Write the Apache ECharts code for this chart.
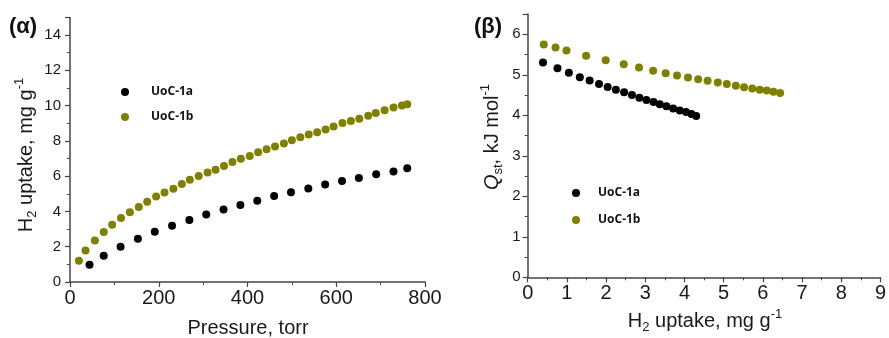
<!DOCTYPE html>
<html><head><meta charset="utf-8">
<script src="https://cdn.jsdelivr.net/npm/echarts@6/dist/echarts.min.js"></script>
<style>html,body{margin:0;padding:0;background:#fff}#c{width:889px;height:338px}</style>
</head><body><div id="c"></div>
<script>
// Panel (α): H2 uptake vs pressure
const seriesNames = ['UoC-1a', 'UoC-1b'];
const pressureA = [44, 76, 114, 153, 191, 230, 269, 307, 346, 384, 422, 460, 498, 537, 575, 613, 651, 690, 729, 760];
const uptakeA = [0.98, 1.49, 2.0, 2.45, 2.85, 3.19, 3.51, 3.83, 4.11, 4.36, 4.6, 4.87, 5.09, 5.3, 5.53, 5.72, 5.9, 6.11, 6.26, 6.45];
const pressureB = [20, 35, 56, 76, 95, 115, 135, 155, 174, 194, 213, 233, 252, 270, 290, 310, 328, 347, 366, 385, 405, 424, 443, 462, 482, 500, 519, 538, 557, 576, 594, 614, 633, 652, 672, 689, 709, 729, 748, 760];
const uptakeB = [1.21, 1.78, 2.35, 2.83, 3.24, 3.63, 3.95, 4.25, 4.55, 4.84, 5.07, 5.29, 5.56, 5.80, 6.01, 6.21, 6.37, 6.58, 6.80, 6.98, 7.14, 7.35, 7.53, 7.68, 7.85, 8.04, 8.21, 8.36, 8.49, 8.64, 8.81, 9.02, 9.13, 9.26, 9.42, 9.58, 9.74, 9.89, 10.0, 10.08];
// Panel (β): Qst vs H2 uptake
const qUptakeA = [0.39, 0.76, 1.05, 1.33, 1.58, 1.82, 2.04, 2.25, 2.46, 2.66, 2.85, 3.03, 3.21, 3.37, 3.54, 3.71, 3.88, 4.04, 4.18, 4.30];
const qstA = [5.30, 5.16, 5.05, 4.94, 4.86, 4.77, 4.70, 4.63, 4.57, 4.50, 4.43, 4.38, 4.33, 4.27, 4.22, 4.17, 4.12, 4.08, 4.03, 3.98];
const qUptakeB = [0.41, 0.71, 0.99, 1.49, 1.99, 2.45, 2.84, 3.2, 3.52, 3.81, 4.09, 4.35, 4.59, 4.85, 5.08, 5.31, 5.52, 5.73, 5.92, 6.1, 6.27, 6.44];
const qstB = [5.75, 5.67, 5.60, 5.47, 5.36, 5.26, 5.18, 5.10, 5.04, 4.98, 4.93, 4.89, 4.85, 4.81, 4.77, 4.73, 4.69, 4.66, 4.63, 4.61, 4.58, 4.55];

const zip = (xs, ys) => xs.map((x, i) => [x, ys[i]]);
const FONT = 'Liberation Sans, Arial, sans-serif';
const AX = '#444';
const TXT = '#1a1a1a';
const colors = ['#000000', '#808000'];

function axisCommon(extra) {
  return Object.assign({
    type: 'value',
    axisLine: { show: true, onZero: false, lineStyle: { color: AX, width: 1.5 } },
    axisTick: { show: true, inside: false, length: 5, lineStyle: { color: AX, width: 1.2 } },
    minorTick: { show: true, splitNumber: 2, length: 3, lineStyle: { color: AX, width: 1 } },
    splitLine: { show: false },
    minorSplitLine: { show: false },
  }, extra);
}

const chart = echarts.init(document.getElementById('c'), null, { renderer: 'canvas' });
const legendText = { fontFamily: 'Open Sans, sans-serif', fontWeight: 'bold', fontSize: 12, color: '#111' };
chart.setOption({
  backgroundColor: '#fff',
  animation: false,
  grid: [
    { left: 70, top: 17.4, width: 355, height: 264.6 },
    { left: 527.7, top: 14, width: 355.3, height: 263.3 }
  ],
  xAxis: [
    axisCommon({ gridIndex: 0, min: 0, max: 800, interval: 200,
      axisLabel: { color: TXT, fontFamily: FONT, fontSize: 20, margin: 6 } }),
    axisCommon({ gridIndex: 1, min: 0, max: 9, interval: 1,
      axisLabel: { color: TXT, fontFamily: FONT, fontSize: 20, margin: 6 } })
  ],
  yAxis: [
    axisCommon({ gridIndex: 0, min: 0, max: 15, interval: 2,
      axisLabel: { color: TXT, fontFamily: FONT, fontSize: 15, margin: 9, showMaxLabel: false } }),
    axisCommon({ gridIndex: 1, min: 0, max: 6.5, interval: 1,
      axisLabel: { color: TXT, fontFamily: FONT, fontSize: 15, margin: 7, showMaxLabel: false } })
  ],
  legend: [
    { orient: 'vertical', left: 116, top: 81, itemWidth: 42, itemHeight: 8, itemGap: 13, icon: 'circle',
      data: seriesNames, textStyle: legendText },
    { orient: 'vertical', left: 567, top: 182, itemWidth: 34, itemHeight: 8, itemGap: 15, icon: 'circle',
      data: seriesNames, textStyle: legendText }
  ],
  series: [
    { name: seriesNames[0], type: 'scatter', xAxisIndex: 0, yAxisIndex: 0, symbolSize: 8, itemStyle: { color: colors[0], opacity: 1 }, data: zip(pressureA, uptakeA) },
    { name: seriesNames[1], type: 'scatter', xAxisIndex: 0, yAxisIndex: 0, symbolSize: 8, itemStyle: { color: colors[1], opacity: 1 }, data: zip(pressureB, uptakeB) },
    { name: seriesNames[0], type: 'scatter', xAxisIndex: 1, yAxisIndex: 1, symbolSize: 8, itemStyle: { color: colors[0], opacity: 1 }, data: zip(qUptakeA, qstA) },
    { name: seriesNames[1], type: 'scatter', xAxisIndex: 1, yAxisIndex: 1, symbolSize: 8, itemStyle: { color: colors[1], opacity: 1 }, data: zip(qUptakeB, qstB) }
  ],
  graphic: [
    { type: 'text', x: 9, y: 27, style: { text: '(α)', font: 'bold 22px ' + FONT, fill: '#111', verticalAlign: 'middle' } },
    { type: 'text', x: 474, y: 27, style: { text: '(β)', font: 'bold 22px ' + FONT, fill: '#111', verticalAlign: 'middle' } },
    { type: 'text', x: 248, y: 328, style: { text: 'Pressure, torr', font: '20px ' + FONT, fill: TXT, align: 'center', verticalAlign: 'middle' } },
    { type: 'text', x: 705, y: 321, style: {
        text: '{a|H}{s|2}{a| uptake, mg g}{p|-1}', align: 'center', verticalAlign: 'middle',
        rich: {
          a: { fontSize: 20, fontFamily: FONT, fill: TXT, lineHeight: 26, verticalAlign: 'middle' },
          s: { fontSize: 13, fontFamily: FONT, fill: TXT, lineHeight: 13, verticalAlign: 'bottom' },
          p: { fontSize: 13, fontFamily: FONT, fill: TXT, lineHeight: 13, verticalAlign: 'top' }
        } } },
    { type: 'text', x: 26, y: 155, rotation: Math.PI / 2, style: {
        text: '{a|H}{s|2}{a| uptake, mg g}{p|-1}', align: 'center', verticalAlign: 'middle',
        rich: {
          a: { fontSize: 20, fontFamily: FONT, fill: TXT, lineHeight: 26, verticalAlign: 'middle' },
          s: { fontSize: 13, fontFamily: FONT, fill: TXT, lineHeight: 13, verticalAlign: 'bottom' },
          p: { fontSize: 13, fontFamily: FONT, fill: TXT, lineHeight: 13, verticalAlign: 'top' }
        } } },
    { type: 'text', x: 492, y: 137, rotation: Math.PI / 2, style: {
        text: '{q|Q}{s|st}{a|, kJ mol}{p|-1}', align: 'center', verticalAlign: 'middle',
        rich: {
          q: { fontSize: 20, fontFamily: FONT, fontStyle: 'italic', fill: TXT, lineHeight: 26, verticalAlign: 'middle' },
          a: { fontSize: 20, fontFamily: FONT, fill: TXT, lineHeight: 26, verticalAlign: 'middle' },
          s: { fontSize: 13, fontFamily: FONT, fill: TXT, lineHeight: 13, verticalAlign: 'bottom' },
          p: { fontSize: 13, fontFamily: FONT, fill: TXT, lineHeight: 13, verticalAlign: 'top' }
        } } }
  ]
});
</script></body></html>
